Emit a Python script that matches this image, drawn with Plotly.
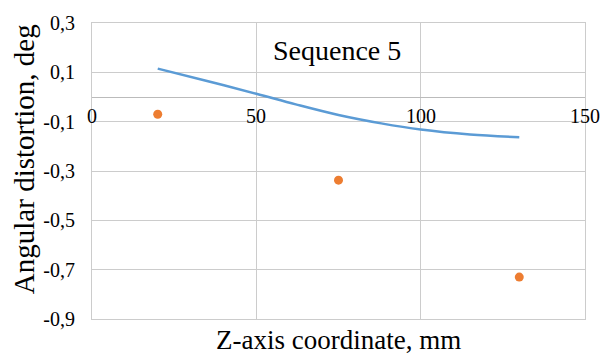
import plotly.graph_objects as go

# Data
line_x = [20, 35, 50, 62, 75, 88, 100, 115, 130]
line_y = [0.115, 0.065, 0.013, -0.030, -0.073, -0.107, -0.132, -0.152, -0.163]

pts_x = [20, 75, 130]
pts_y = [-0.07, -0.337, -0.730]

x_ticks = [0, 50, 100, 150]
x_ticklabels = ["0", "50", "100", "150"]
y_ticks = [-0.9, -0.7, -0.5, -0.3, -0.1, 0.1, 0.3]
y_ticklabels = ["-0,9", "-0,7", "-0,5", "-0,3", "-0,1", "0,1", "0,3"]

title_text = "Sequence 5"
x_title = "Z-axis coordinate, mm"
y_title = "Angular distortion, deg"

FONT = "Liberation Serif"
GRID = "#CCCCCC"

fig = go.Figure()
fig.add_trace(go.Scatter(x=line_x, y=line_y, mode="lines",
                         line=dict(color="#5B9BD5", width=2.5, shape="spline", smoothing=1.0),
                         showlegend=False, hoverinfo="skip"))
fig.add_trace(go.Scatter(x=pts_x, y=pts_y, mode="markers",
                         marker=dict(color="#ED7D31", size=9, line=dict(width=0)),
                         showlegend=False, hoverinfo="skip"))

annotations = [
    dict(text=title_text, xref="paper", yref="paper", x=0.496, y=0.907,
         xanchor="center", yanchor="middle", showarrow=False,
         font=dict(family=FONT, size=28, color="#000000")),
    dict(text=x_title, xref="paper", yref="paper", x=0.5, y=-0.071,
         xanchor="center", yanchor="middle", showarrow=False,
         font=dict(family=FONT, size=27, color="#000000")),
    dict(text=y_title, xref="paper", yref="paper", x=-0.138, y=0.54,
         xanchor="center", yanchor="middle", showarrow=False, textangle=-90,
         font=dict(family=FONT, size=29, color="#000000")),
]
# x tick labels sit next to the horizontal axis at y = 0
for v, t in zip(x_ticks, x_ticklabels):
    annotations.append(dict(text=t, xref="x", yref="y", x=v, y=0,
                            xanchor="center", yanchor="middle", yshift=-19,
                            showarrow=False,
                            font=dict(family=FONT, size=20, color="#000000")))

fig.update_layout(
    width=613, height=361,
    margin=dict(l=92, r=28, t=16, b=42),
    paper_bgcolor="white", plot_bgcolor="white",
    font=dict(family=FONT, size=20, color="#000000"),
    xaxis=dict(range=[0, 150], tickvals=x_ticks, showticklabels=False,
               showgrid=True, gridcolor=GRID, gridwidth=1,
               zeroline=False, showline=True, mirror=True, linecolor=GRID, linewidth=1,
               ticks=""),
    yaxis=dict(range=[-0.9, 0.3], tickmode="array", tickvals=y_ticks, ticktext=y_ticklabels,
               showgrid=True, gridcolor=GRID, gridwidth=1,
               zeroline=True, zerolinecolor="#BBBBBB", zerolinewidth=1.25,
               showline=True, mirror=True, linecolor=GRID, linewidth=1,
               ticks="outside", ticklen=12, tickcolor="rgba(0,0,0,0)",
               tickfont=dict(family=FONT, size=20, color="#000000")),
    annotations=annotations,
)

fig.write_html("out.html")
